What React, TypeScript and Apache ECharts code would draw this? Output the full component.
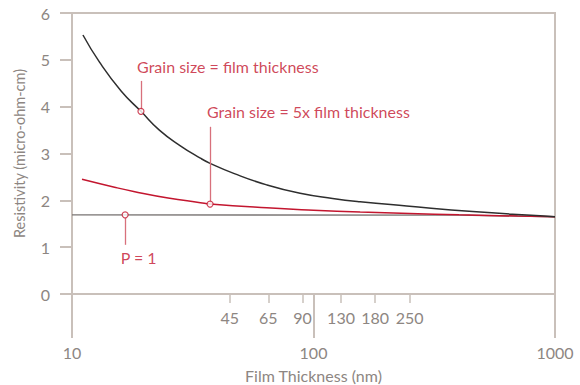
import React, { useEffect, useRef } from "react";
import * as echarts from "echarts";

// Film thickness (nm) sample points
const blackX = [11.1, 13, 16, 19.3, 23, 28, 34, 37.3, 47, 64, 88, 120, 156, 243, 456, 867, 1000];
const blackY = [5.53, 4.95, 4.33, 3.9, 3.5, 3.17, 2.9, 2.79, 2.57, 2.33, 2.15, 2.04, 1.97, 1.88, 1.76, 1.67, 1.65];

const redX = [11, 15, 18, 25, 34, 37.3, 64, 100, 156, 250, 400, 700, 1000];
const redY = [2.45, 2.28, 2.19, 2.05, 1.95, 1.92, 1.84, 1.79, 1.75, 1.72, 1.69, 1.665, 1.65];

const grayX = [10, 400, 1000];
const grayY = [1.69, 1.685, 1.65];

// markers on curves
const markerX = [19.3, 37.3, 16.6];
const markerY = [3.9, 1.92, 1.69];

// annotation texts (anchor = left edge, vertical middle)
const annoText = ["Grain size = film thickness", "Grain size = 5x film thickness", "P = 1"];
const annoX = [18.6, 36.2, 15.9];
const annoY = [4.85, 3.89, 0.77];

// leader lines
const leaderX = [19.3, 37.3, 16.6];
const leaderTop = [4.55, 3.57, 1.62];
const leaderBottom = [3.9, 1.92, 1.05];

const majorTicks = [10, 100, 1000];
const minorTicks = [45, 65, 90, 130, 180, 250];
const yTicks = [0, 1, 2, 3, 4, 5, 6];

const AXIS = "#c9c0ba";
const TEXT = "#8d8682";
const RED = "#c3162f";
const FONT = "Lato, 'Open Sans', sans-serif";

export default function App() {
  const ref = useRef<HTMLDivElement>(null);
  useEffect(() => {
    if (!ref.current) return;
    const chart = echarts.init(ref.current, null, { renderer: "svg" });
    const zip = (xs: number[], ys: number[]) => xs.map((x, i) => [x, ys[i]]);
    chart.setOption({
      animation: false,
      textStyle: { fontFamily: FONT },
      grid: {
        left: 72,
        right: 25,
        top: 13,
        bottom: 91,
        containLabel: false,
        outerBoundsMode: "none",
        show: true,
        borderColor: AXIS,
        borderWidth: 2,
        backgroundColor: "transparent",
      },
      xAxis: [
        {
          type: "log",
          logBase: 10,
          min: 10,
          max: 1000,
          position: "bottom",
          axisLine: { show: false },
          splitLine: { show: false },
          axisTick: {
            show: true,
            customValues: majorTicks,
            length: 44,
            lineStyle: { color: AXIS, width: 2 },
          },
          axisLabel: {
            customValues: majorTicks,
            margin: 50,
            fontSize: 16,
            color: TEXT,
            fontFamily: FONT,
            formatter: (v: number) => String(Math.round(v)),
          },
          name: "Film Thickness (nm)",
          nameLocation: "middle",
          nameGap: 73,
          nameTextStyle: { fontSize: 16, color: TEXT, fontFamily: FONT },
        },
        {
          type: "log",
          logBase: 10,
          min: 10,
          max: 1000,
          position: "bottom",
          axisLine: { show: false },
          splitLine: { show: false },
          axisTick: {
            show: true,
            customValues: minorTicks,
            length: 9,
            lineStyle: { color: AXIS, width: 1.5 },
          },
          axisLabel: {
            customValues: minorTicks,
            margin: 15,
            fontSize: 16,
            color: TEXT,
            fontFamily: FONT,
            formatter: (v: number) => String(Math.round(v)),
          },
        },
      ],
      yAxis: {
        type: "value",
        min: 0,
        max: 6,
        interval: 1,
        axisLine: { show: false },
        splitLine: { show: false },
        axisTick: { show: true, length: 12, lineStyle: { color: AXIS, width: 2 } },
        axisLabel: {
          margin: 22,
          fontSize: 16,
          color: TEXT,
          fontFamily: FONT,
          customValues: yTicks,
        },
        name: "Resistivity (micro-ohm-cm)",
        nameLocation: "middle",
        nameGap: 45,
        nameTextStyle: { fontSize: 14.5, color: TEXT, fontFamily: FONT },
      },
      series: [
        {
          type: "line",
          data: zip(grayX, grayY),
          showSymbol: false,
          symbol: "none",
          lineStyle: { color: "#7a7574", width: 1.4 },
          z: 2,
        },
        {
          type: "line",
          data: zip(redX, redY),
          smooth: true,
          showSymbol: false,
          symbol: "none",
          lineStyle: { color: RED, width: 1.5 },
          z: 3,
        },
        {
          type: "line",
          data: zip(blackX, blackY),
          smooth: true,
          showSymbol: false,
          symbol: "none",
          lineStyle: { color: "#2e2e2e", width: 1.5 },
          z: 3,
        },
        {
          type: "line",
          data: [],
          markLine: {
            silent: true,
            symbol: "none",
            label: { show: false },
            lineStyle: { color: "#d8707c", width: 1.3, type: "solid" },
            data: leaderX.map((x, i) => [
              { coord: [x, leaderTop[i]] },
              { coord: [x, leaderBottom[i]] },
            ]),
          },
          z: 4,
        },
        {
          type: "scatter",
          data: zip(markerX, markerY),
          symbol: "circle",
          symbolSize: 6,
          itemStyle: { color: "#ffffff", borderColor: RED, borderWidth: 1.2 },
          z: 6,
        },
        {
          type: "scatter",
          data: annoX.map((x, i) => ({ value: [x, annoY[i]], name: annoText[i] })),
          symbolSize: 0,
          label: {
            show: true,
            position: [0, 0],
            align: "left",
            verticalAlign: "middle",
            formatter: (p: any) => p.name,
            color: RED,
            fontSize: 16,
            fontFamily: FONT,
          },
          z: 6,
        },
      ],
    });
    return () => chart.dispose();
  }, []);
  return <div ref={ref} style={{ width: 580, height: 385, position: "absolute", left: 0, top: 0 }} />;
}
